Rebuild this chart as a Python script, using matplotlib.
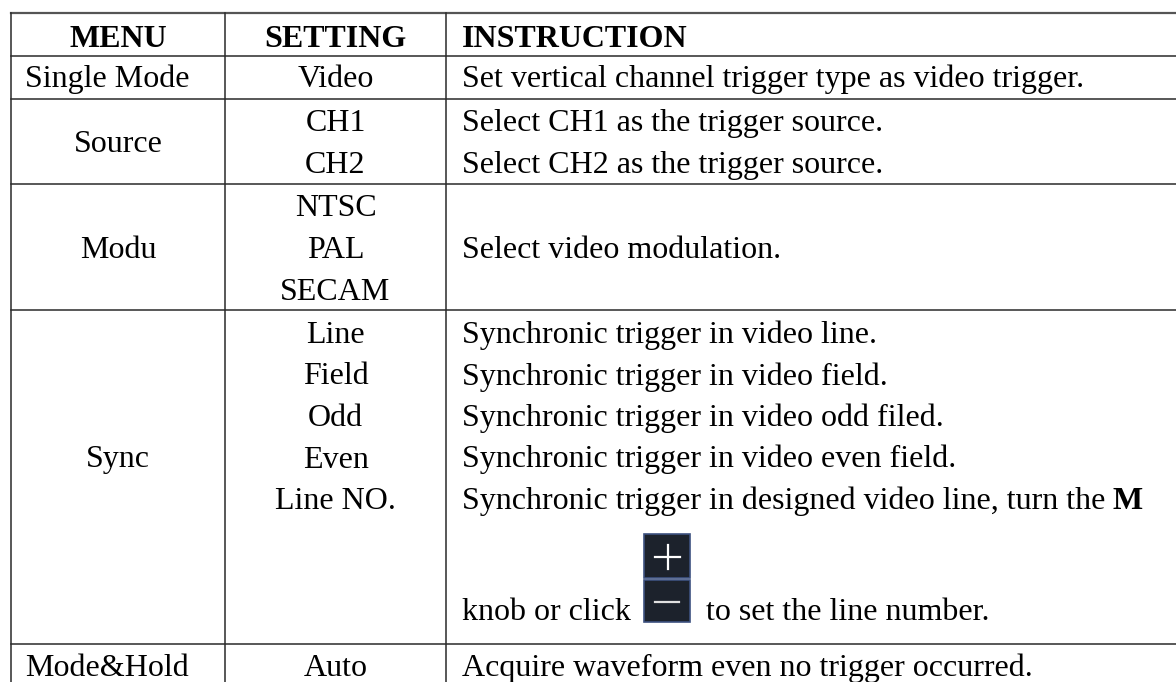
import matplotlib.pyplot as plt
from matplotlib.patches import Rectangle

plt.rcParams['font.family'] = ['Liberation Serif', 'DejaVu Serif']

headers = ["MENU", "SETTING", "INSTRUCTION"]
menus = ["Single Mode", "Source", "Modu", "Sync", "Mode&Hold"]
settings = [["Video"], ["CH1", "CH2"], ["NTSC", "PAL", "SECAM"],
            ["Line", "Field", "Odd", "Even", "Line NO."], ["Auto"]]
instructions = [["Set vertical channel trigger type as video trigger."],
                ["Select CH1 as the trigger source.", "Select CH2 as the trigger source."],
                ["Select video modulation."],
                ["Synchronic trigger in video line.",
                 "Synchronic trigger in video field.",
                 "Synchronic trigger in video odd filed.",
                 "Synchronic trigger in video even field.",
                 "Synchronic trigger in designed video line, turn the"],
                ["Acquire waveform even no trigger occurred."]]

# layout in pixels
W, H = 1176, 682
col_x = [11, 225, 446]
row_y = [13, 56, 99, 184, 310, 644]
fs = 23

fig = plt.figure(figsize=(W / 100, H / 100), dpi=100)
ax = fig.add_axes([0, 0, 1, 1])
ax.set_xlim(0, W)
ax.set_ylim(H, 0)
ax.axis('off')

lc = '#2a2a2a'
for y in row_y[1:]:
    ax.plot([col_x[0], W], [y, y], color=lc, lw=1.1)
ax.plot([col_x[0], W], [row_y[0], row_y[0]], color='#555555', lw=1.6)
for x in col_x:
    ax.plot([x, x], [row_y[0], H], color=lc, lw=1.1)

c1 = (col_x[0] + col_x[1]) / 2
c2 = (col_x[1] + col_x[2]) / 2
tx = 462

ax.text(c1, 47, headers[0], ha='center', va='baseline', fontsize=fs, fontweight='bold')
ax.text(c2, 47, headers[1], ha='center', va='baseline', fontsize=fs, fontweight='bold')
ax.text(tx, 47, headers[2], ha='left', va='baseline', fontsize=fs, fontweight='bold')

# baselines
setting_y = [[87], [131, 173], [216.5, 258, 299.5],
             [343, 384.5, 426, 467.5, 509], [676]]
menu_y = [87, 152, 258, 467.5, 676]
menu_x = [107, c1, c1, c1, 107]
instr_y = [[87], [131, 173], [258], [343, 384.5, 426, 467.5, 509], [676]]

turn_txt = None
for i, m in enumerate(menus):
    ax.text(menu_x[i], menu_y[i], m, ha='center', va='baseline', fontsize=fs)
    for s, y in zip(settings[i], setting_y[i]):
        ax.text(c2, y, s, ha='center', va='baseline', fontsize=fs)
    for t, y in zip(instructions[i], instr_y[i]):
        tt = ax.text(tx, y, t, ha='left', va='baseline', fontsize=fs)
        if t.endswith("turn the"):
            turn_txt = tt

# bold M after the "turn the" line
fig.canvas.draw()
r = fig.canvas.get_renderer()
bb = turn_txt.get_window_extent(r)
x_end = ax.transData.inverted().transform((bb.x1, bb.y0))[0]
ax.text(x_end + 7, 509, "M", ha='left', va='baseline', fontsize=fs, fontweight='bold')

# knob line with +/- buttons
ax.text(tx, 620, "knob or click", ha='left', va='baseline', fontsize=fs)
ax.text(706, 620, "to set the line number.", ha='left', va='baseline', fontsize=fs)
for (y0, y1, sym) in [(534, 578, '+'), (580, 622, '-')]:
    ax.add_patch(Rectangle((644, y0), 46, y1 - y0, facecolor='#1c222c',
                           edgecolor='#3d5280', lw=1.2))
    if sym == '+':
        ax.plot([655, 680], [557, 557], color='white', lw=1.6)
        ax.plot([667.5, 667.5], [545, 569], color='white', lw=1.6)
    else:
        ax.plot([655, 679], [602, 602], color='#e0e0e0', lw=1.6)

fig.savefig('out.png', dpi=100)
